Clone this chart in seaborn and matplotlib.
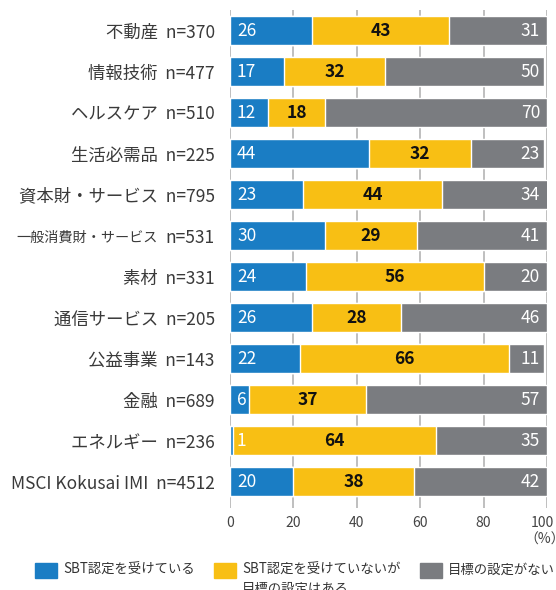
import matplotlib
matplotlib.use("Agg")
import matplotlib.pyplot as plt
import matplotlib.patches as mpatches
import matplotlib.transforms as mtransforms
import seaborn as sns
import pandas as pd
import numpy as np

# Sector names and sample sizes
sectors = ["不動産", "情報技術", "ヘルスケア", "生活必需品", "資本財・サービス",
           "一般消費財・サービス", "素材", "通信サービス", "公益事業", "金融",
           "エネルギー", "MSCI Kokusai IMI"]
counts = [370, 477, 510, 225, 795, 531, 331, 205, 143, 689, 236, 4512]

# Shares (%) per status
certified = [26, 17, 12, 44, 23, 30, 24, 26, 22, 6, 1, 20]
target_only = [43, 32, 18, 32, 44, 29, 56, 28, 66, 37, 64, 38]
no_target = [31, 50, 70, 23, 34, 41, 20, 46, 11, 57, 35, 42]

series_names = ["SBT認定を受けている", "SBT認定を受けていないが\n目標の設定はある", "目標の設定がない"]
colors = ["#1a7dc4", "#f8bf14", "#7a7c80"]

x_ticks = [0, 20, 40, 60, 80, 100]

sns.set_theme(style="white")
plt.rcParams["font.family"] = ["Noto Sans CJK JP", "DejaVu Sans"]

labels = [f"{s}  n={n}" for s, n in zip(sectors, counts)]
df = pd.DataFrame({
    "label": labels,
    "c1": certified,
    "c2": np.add(certified, target_only),
    "c3": np.add(np.add(certified, target_only), no_target),
})

W, H = 556, 590
fig = plt.figure(figsize=(W / 100, H / 100), dpi=100)
ax = fig.add_axes([230 / W, 1 - 508 / H, (547 - 230) / W, (508 - 10) / H])

# Stacked bars: draw cumulative totals from the outermost layer inward
for col, c in zip(["c3", "c2", "c1"], colors[::-1]):
    sns.barplot(data=df, x=col, y="label", orient="h", color=c, saturation=1,
                width=0.73, errorbar=None, ax=ax, zorder=2)

ax.set_xlim(0, 100)
ax.set_ylim(len(sectors) - 1 + 0.646, -0.5)
ax.set_xticks(x_ticks)
ax.set_xticklabels([str(t) for t in x_ticks])
ax.xaxis.grid(True, color="#b4b4b4", linewidth=1.2)
ax.yaxis.grid(False)
ax.set_axisbelow(True)
for sp in ax.spines.values():
    sp.set_visible(False)
ax.set_xlabel("")
ax.set_ylabel("")
ax.tick_params(axis="x", length=0, pad=6, labelsize=10, labelcolor="#444444")
ax.tick_params(axis="y", length=0, pad=11, labelsize=12.5, labelcolor="#3a3a3a")

# Nudge the last x tick label inward so it stays inside the canvas
last = ax.get_xticklabels()[-1]
last.set_transform(last.get_transform() +
                   mtransforms.ScaledTranslation(-3 / 72, 0, fig.dpi_scale_trans))

# The longest sector name is set in a smaller size so it fits the margin
long_idx = sectors.index("一般消費財・サービス")
ylabels = list(labels)
ylabels[long_idx] = f"n={counts[long_idx]}"
ax.set_yticks(range(len(sectors)))
ax.set_yticklabels(ylabels)
fig.canvas.draw()
bb = ax.get_yticklabels()[long_idx].get_window_extent()
fig.text((bb.x0 - 8) / W, (bb.y0 + bb.y1) / 2 / H, sectors[long_idx],
         ha="right", va="center", fontsize=10.2, color="#3a3a3a")

# Segment value labels
val_fs = 12.5
for i in range(len(sectors)):
    a, b, c = certified[i], target_only[i], no_target[i]
    ax.text(2.2, i, str(a), ha="left", va="center", color="white",
            fontsize=val_fs, zorder=5)
    ax.text(a + b / 2, i, str(b), ha="center", va="center", color="#111111",
            fontsize=val_fs, fontweight="bold", zorder=5)
    ax.text(97.8, i, str(c), ha="right", va="center", color="white",
            fontsize=val_fs, zorder=5)

fig.text(545 / W, 1 - 540 / H, "（%）", ha="center", va="center",
         fontsize=10, color="#444444")

# Legend
legend_boxes = [35, 214, 420]
legend_text_x = [63, 242, 448]
for bx, tx, name, c in zip(legend_boxes, legend_text_x, series_names, colors):
    fig.add_artist(mpatches.Rectangle((bx / W, 1 - 578 / H), 22 / W, 15 / H,
                                      transform=fig.transFigure, color=c))
    fig.text(tx / W, 1 - 563 / H, name, ha="left", va="top", fontsize=9.6,
             color="#333333", linespacing=1.4)

fig.savefig("out.png", dpi=100)
